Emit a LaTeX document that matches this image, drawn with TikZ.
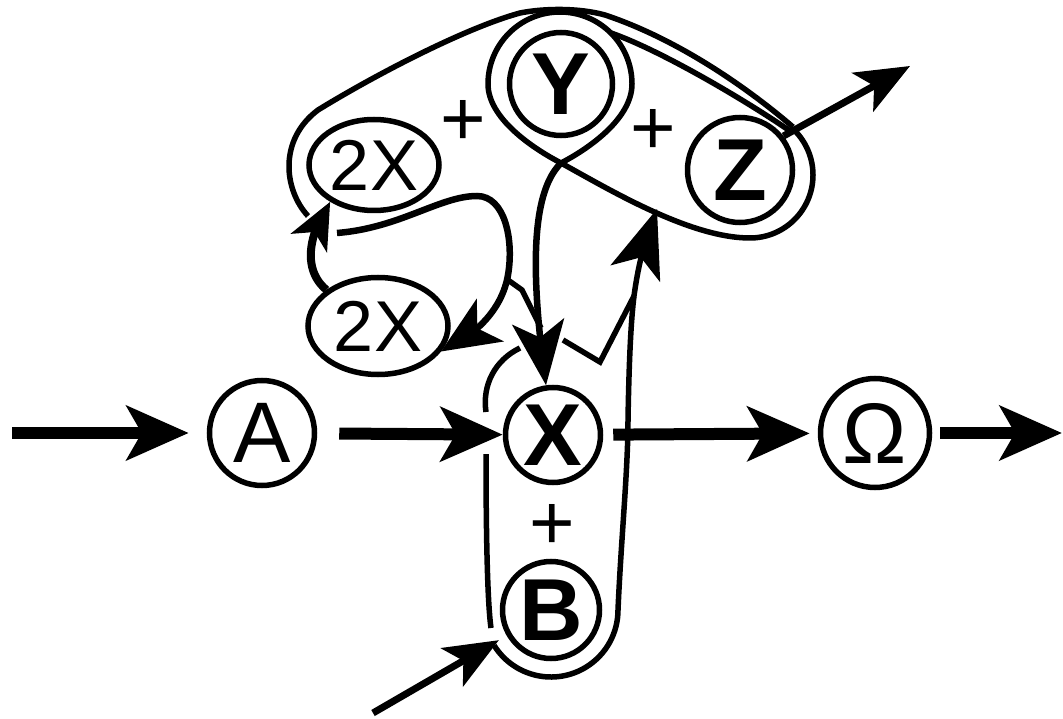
\documentclass[tikz,border=0pt]{standalone}
\usepackage{fontspec}
\setmainfont{Liberation Sans}
\usetikzlibrary{arrows.meta,bending,shapes.geometric,calc}
\begin{document}
\begin{tikzpicture}[x=1pt,y=-1pt,
  every node/.style={inner sep=0pt},
  species/.style={circle,draw,line width=5.5pt,minimum size=#1},
  pairnode/.style={ellipse,draw,line width=5.5pt},
  rm/.style={font=\fontsize{86pt}{86pt}\selectfont},
  bf/.style={font=\fontsize{88pt}{88pt}\selectfont\bfseries},
  twox/.style={font=\fontsize{72pt}{72pt}\selectfont},
  plussign/.style={font=\fontsize{78pt}{78pt}\selectfont},
  loopline/.style={line width=5.5pt},
  flow/.style={line width=12pt,-{Stealth[length=62pt,width=54pt,inset=15pt]}},
  react/.style={line width=6.5pt,-{Stealth[length=64pt,width=52pt,inset=16pt]}},
  feed/.style={line width=7pt,-{Stealth[length=54pt,width=44pt,inset=13pt]}}
]
\fill[white] (0,0) rectangle (1063,719);
\useasboundingbox (0,0) rectangle (1063,719);

% species
\node[species=105pt,rm] (A)  at (262,433) {A};
\node[species=95pt,bf]  (X)  at (553,435) {X};
\node[species=109pt,rm] (Om) at (875,433) {Ω};
\node[species=97pt,bf]  (B)  at (551,610) {B};
\node[species=103pt,bf] (Y)  at (561,84)  {Y};
\node[species=105pt,bf] (Z)  at (740,170) {Z};
\node[pairnode,minimum width=130pt,minimum height=91pt,twox] (Xu) at (374,165) {2X};
\node[pairnode,minimum width=140pt,minimum height=97pt,twox] (Xl) at (378,326) {2X};
\node[plussign] (p1) at (463,123) {+};
\node[plussign] (p2) at (653,132) {+};
\node[plussign] (p3) at (552,527) {+};

% free ends
\coordinate (inA)  at (12,433);
\coordinate (outO) at (1062,433);
\coordinate (inB)  at (373,713);
\coordinate (Zout) at (910,66);
\coordinate (Ytip) at (561,163);

% main flow
\draw[flow,shorten >=18pt] (inA) -- (A);
\draw[flow,shorten <=22pt] (A) -- (X);
\draw[flow,shorten <=10pt,shorten >=8pt] (X) -- (Om);
\draw[flow,shorten <=8pt] (Om) -- (outO);
\draw[feed,shorten >=9pt] (inB) -- (B);

% X + B complex
\draw[loopline] (520,348) .. controls (495,360) and (482,385) .. (486,412);
\draw[loopline] (486,454) .. controls (486,520) and (487,600) .. (491,628);
\draw[loopline,-{Stealth[length=68pt,width=52pt,inset=17pt]}]
  ($(B.center)+(148:67)$) arc[start angle=148,end angle=0,radius=67]
  .. controls (621,540) and (628,470) .. (628,420)
  .. controls (629,360) and (631,320) .. (634,296)
  .. controls (639,260) and (645,240) .. (657,209);
\draw[loopline] (563,340) -- (600,362) -- (634,296);

% Y loop (teardrop)
\draw[loopline] (Ytip) .. controls (532,148) and (488,118) .. (488,84)
  arc[start angle=180,end angle=360,radius=72]
  .. controls (632,118) and (590,148) .. (Ytip);

% outer loop over 2X, Y
\draw[loopline] (308,216) .. controls (284,190) and (278,140) .. (318,110)
  .. controls (375,75) and (465,28) .. (520,13)
  .. controls (545,8) and (580,8) .. (605,15)
  .. controls (680,40) and (750,90) .. (793,127);
\draw[loopline] (611,33) .. controls (660,50) and (745,100) .. (790,131);

% Y + Z loop
\draw[loopline] (Ytip) .. controls (610,190) and (690,238) .. (750,238)
  arc[start angle=90,end angle=-45,radius=63];
\draw[feed] (Z.38) -- (Zout);

% Y -> X
\draw[react] (Ytip) .. controls (536,188) and (527,250) .. (X);
% 2X + Y -> 2X, X
\draw[line width=6.5pt,-{Stealth[length=58pt,width=50pt,inset=15pt]}]
  (337,233) .. controls (400,228) and (440,196) .. (477,196)
  .. controls (505,196) and (514,240) .. (508,275)
  .. controls (502,310) and (475,336) .. (Xl.-22);
\draw[loopline] (508,280) -- (522,290) -- (541,328);
% 2X recycled
\draw[line width=8pt,-{Stealth[length=46pt,width=40pt,inset=12pt]}]
  (Xl.145) .. controls (305,272) and (305,240) .. (Xu.-140);
\end{tikzpicture}
\end{document}
